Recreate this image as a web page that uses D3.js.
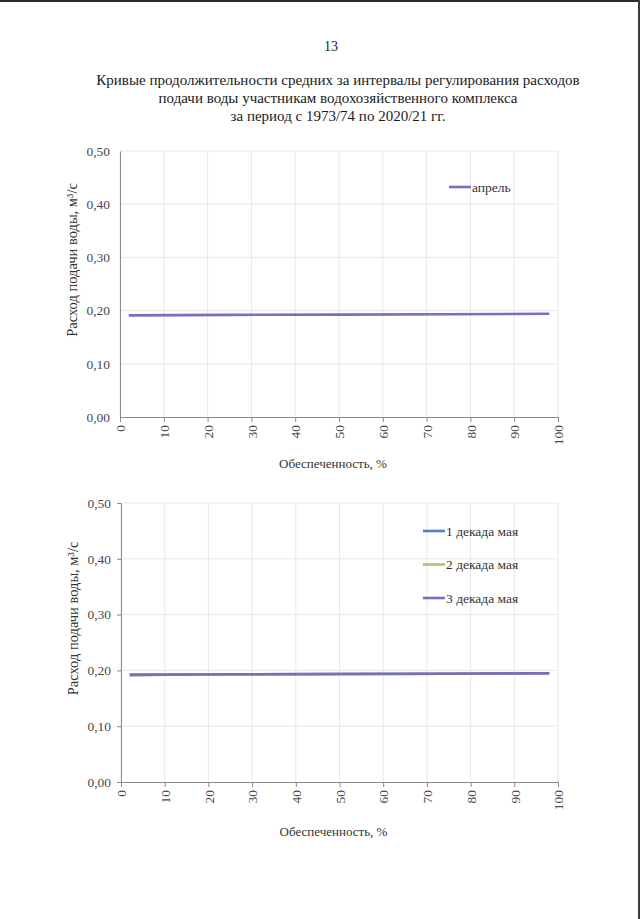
<!DOCTYPE html>
<html>
<head>
<meta charset="utf-8">
<script src="https://cdn.jsdelivr.net/npm/d3@7"></script>
<style>
  body { margin: 0; background: #fff; }
  svg { display: block; font-family: "Liberation Serif", "Times New Roman", serif; }
  .grid line { stroke: #e8e8e8; stroke-width: 1; }
  .axis path, .axis line { stroke: #8a8a8a; }
  .axis text { fill: #4a4a4a; font-size: 13.5px; font-family: "Liberation Serif", serif; }
</style>
</head>
<body>
<svg id="page" width="640" height="919"></svg>
<script>
// probability of exceedance, %
const provision = [2, 25, 50, 75, 98];
// top chart: April
const aprilValues = [0.191, 0.192, 0.1925, 0.193, 0.194];
// bottom chart: May decades (all three nearly identical)
const may1Values = [0.192, 0.193, 0.1935, 0.194, 0.195];
const may2Values = [0.192, 0.193, 0.1935, 0.194, 0.195];
const may3Values = [0.192, 0.193, 0.1935, 0.194, 0.195];

const xTicks = [0, 10, 20, 30, 40, 50, 60, 70, 80, 90, 100];
const yTicks = [0, 0.1, 0.2, 0.3, 0.4, 0.5];

const titleLines = [
  "Кривые продолжительности средних за интервалы регулирования расходов",
  "подачи воды участникам водохозяйственного комплекса",
  "за период с 1973/74 по 2020/21 гг."
];

const svg = d3.select("#page");

// scan edge
svg.append("rect").attr("x", 0).attr("y", 0).attr("width", 640).attr("height", 2)
  .attr("fill", "#2a2a2a");
svg.append("rect").attr("x", 638).attr("y", 0).attr("width", 2).attr("height", 919)
  .attr("fill", "#3a3a3a");

svg.append("text").attr("x", 331).attr("y", 51).attr("text-anchor", "middle")
  .attr("font-size", 14).attr("fill", "#222").text("13");

svg.append("g").selectAll("text").data(titleLines).enter().append("text")
  .attr("x", 338).attr("y", (d, i) => 85 + i * 18)
  .attr("text-anchor", "middle").attr("font-size", 15).attr("fill", "#1a1a1a")
  .text(d => d);

function drawChart(opts) {
  const x = d3.scaleLinear().domain([0, 100]).range([opts.left, opts.right]);
  const y = d3.scaleLinear().domain([0, 0.5]).range([opts.bottom, opts.top]);
  const g = svg.append("g");

  g.append("g").attr("class", "grid")
    .selectAll("line.h").data(yTicks.slice(1)).enter().append("line")
    .attr("x1", opts.left).attr("x2", opts.right)
    .attr("y1", d => y(d)).attr("y2", d => y(d));
  g.append("g").attr("class", "grid")
    .selectAll("line.v").data(xTicks).enter().append("line")
    .attr("x1", d => x(d)).attr("x2", d => x(d))
    .attr("y1", opts.top).attr("y2", opts.bottom);

  const xAxis = g.append("g").attr("class", "axis")
    .attr("transform", `translate(0,${opts.bottom})`)
    .call(d3.axisBottom(x).tickValues(xTicks).tickSize(5).tickSizeOuter(0));
  xAxis.selectAll("text")
    .attr("transform", "rotate(-90)")
    .attr("text-anchor", "end")
    .attr("x", -8).attr("y", 0).attr("dy", "0.35em");

  const yAxis = g.append("g").attr("class", "axis")
    .attr("transform", `translate(${opts.left},0)`)
    .call(d3.axisLeft(y).tickValues(yTicks).tickSize(opts.yAxisLine ? 4 : 0)
      .tickSizeOuter(0).tickFormat(d => d3.format(".2f")(d).replace(".", ",")));
  yAxis.selectAll("text").attr("x", -10);
  if (!opts.yAxisLine) yAxis.select(".domain").attr("stroke", "#e0e0e0");

  const line = d3.line().x(d => x(d[0])).y(d => y(d[1]));
  opts.series.forEach(s => {
    g.append("path")
      .datum(provision.map((p, i) => [p, s.values[i]]))
      .attr("fill", "none").attr("stroke", s.color).attr("stroke-width", 2.6)
      .attr("d", line);
  });

  const leg = g.append("g").selectAll("g").data(opts.series).enter().append("g")
    .attr("transform", (d, i) => `translate(${opts.legX},${opts.legY + i * 33.5})`);
  leg.append("line").attr("x1", 0).attr("x2", 22).attr("stroke", d => d.color)
    .attr("stroke-width", 2.6);
  leg.append("text").attr("x", 23).attr("dy", "0.35em").attr("font-size", 13.5)
    .attr("fill", "#333").text(d => d.name);

  g.append("text")
    .attr("transform", `translate(${opts.left - 43},${(opts.top + opts.bottom) / 2 - 24}) rotate(-90)`)
    .attr("text-anchor", "middle").attr("font-size", 14.5).attr("fill", "#333")
    .text("Расход подачи воды, м³/с");

  g.append("text").attr("x", (opts.left + opts.right) / 2 - 6).attr("y", opts.xTitleY)
    .attr("text-anchor", "middle").attr("font-size", 13).attr("fill", "#333")
    .text("Обеспеченность, %");
}

drawChart({
  left: 120, right: 558, top: 151, bottom: 417, yAxisLine: false,
  legX: 449, legY: 187, xTitleY: 468,
  series: [{ name: "апрель", color: "#7a6cc0", values: aprilValues }]
});

drawChart({
  left: 121, right: 558, top: 503, bottom: 782, yAxisLine: true,
  legX: 423, legY: 531, xTitleY: 836,
  series: [
    { name: "1 декада мая", color: "#4a80d2", values: may1Values },
    { name: "2 декада мая", color: "#a4c57c", values: may2Values },
    { name: "3 декада мая", color: "#7a6cc0", values: may3Values }
  ]
});
</script>
</body>
</html>
